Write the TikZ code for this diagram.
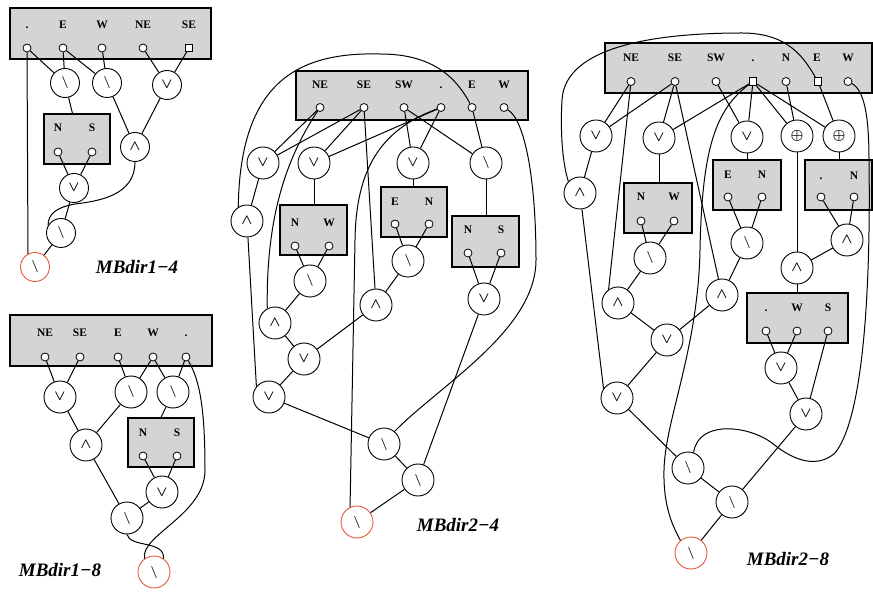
\documentclass[tikz,border=0pt]{standalone}
\usepackage{fontspec}
\setmainfont{Liberation Serif}
\usepackage{xcolor}
\usetikzlibrary{positioning}

\definecolor{boxgray}{RGB}{212,212,212}
\definecolor{rootred}{RGB}{228,90,60}
\newcommand{\orsym}{$\vee$}
\newcommand{\andsym}{$\wedge$}
\newcommand{\difsym}{{\large$\backslash$}}
\newcommand{\xorsym}{$\oplus$}

\begin{document}
\begin{tikzpicture}[x=1pt,y=1pt,
	gate/.style={circle,draw,fill=white,line width=0.9pt,minimum size=32pt,inner sep=0pt,font=\Large\boldmath},
	root/.style={gate,draw=rootred},
	port/.style={circle,draw,fill=white,line width=0.8pt,minimum size=8pt,inner sep=0pt},
	sqport/.style={rectangle,draw,fill=white,line width=0.8pt,minimum size=7.5pt,inner sep=0pt},
	box/.style={draw,fill=boxgray,line width=1.1pt,inner sep=0pt},
	lbl/.style={font=\fontsize{11.5}{13}\selectfont\bfseries,inner sep=0pt,anchor=base},
	mbname/.style={font=\fontsize{19}{22}\selectfont\bfseries\itshape,inner sep=0pt},
	wire/.style={line width=1pt}]
\useasboundingbox (0,0) rectangle (873,-593);

% MBdir1-4
\begin{scope}[gate/.append style={minimum size=29pt}]
\node[box,minimum width=201pt,minimum height=51pt] (aTop) at (110.5,-33.5) {};
\foreach \x/\lab/\n in {27/./dot,63/E/E,102/W/W,143/NE/NE}{
	\node[lbl] (aL\n) at (\x,-29) {\lab};
	\node[port] (aP\n) at (\x,-48) {};
}
\node[lbl] (aLSE) at (189,-29) {SE};
\node[sqport] (aPSE) at (189,-48) {};
\node[box,minimum width=66pt,minimum height=50pt] (aNS) at (77,-139) {};
\foreach \x/\lab in {58/N,92/S}{
	\node[lbl] (aL\lab) at (\x,-132) {\lab};
	\node[port] (aP\lab) at (\x,-152) {};
}
\node[gate] (a1) at (65,-83) {\difsym};
\node[gate] (a2) at (107,-83) {\difsym};
\node[gate] (a3) at (167,-85) {\orsym};
\node[gate] (a4) at (135,-147) {\andsym};
\node[gate] (a5) at (74,-188) {\orsym};
\node[gate] (a6) at (61,-233) {\difsym};
\node[root] (aR) at (35,-267) {\difsym};
\end{scope}
\node[mbname] (aName) at (137,-267) {MBdir1−4};

\draw[wire] (aPdot) -- (a1);
\draw[wire] (aPE) -- (a1);
\draw[wire] (aPE) -- (a2);
\draw[wire] (aPW) -- (a2);
\draw[wire] (aPNE) -- (a3);
\draw[wire] (aPSE) -- (a3);
\draw[wire] (a1) -- (aNS.100);
\draw[wire] (a2) -- (a4);
\draw[wire] (a3) -- (a4);
\draw[wire] (aPN) -- (a5);
\draw[wire] (aPS) -- (a5);
\draw[wire] (a5) -- (a6);
\draw[wire] (a4.south) .. controls (135,-195) and (100,-201) .. (75,-204) .. controls (58,-207) and (48,-213) .. (a6.150);
\draw[wire] (a6) -- (aR);
\draw[wire] (aPdot) -- (aR.118);

% MBdir1-8
\node[box,minimum width=202pt,minimum height=51pt] (bTop) at (111,-340.5) {};
\foreach \x/\lab/\n in {45/NE/NE,80/SE/SE,118/E/E,153/W/W,186/./dot}{
	\node[lbl] (bL\n) at (\x,-337) {\lab};
	\node[port] (bP\n) at (\x,-357) {};
}
\node[box,minimum width=66pt,minimum height=49pt] (bNS) at (161,-442.5) {};
\foreach \x/\lab in {143/N,177/S}{
	\node[lbl] (bL\lab) at (\x,-436) {\lab};
	\node[port] (bP\lab) at (\x,-456) {};
}
\node[gate] (b1) at (60,-397) {\orsym};
\node[gate] (b2) at (131,-392) {\difsym};
\node[gate] (b3) at (173,-392) {\difsym};
\node[gate] (b4) at (86,-445) {\andsym};
\node[gate] (b5) at (162,-492) {\orsym};
\node[gate] (b6) at (127,-518) {\difsym};
\node[root] (bR) at (154,-572) {\difsym};
\node[mbname] (bName) at (60,-570) {MBdir1−8};

\draw[wire] (bPNE) -- (b1);
\draw[wire] (bPSE) -- (b1);
\draw[wire] (bPE) -- (b2);
\draw[wire] (bPW) -- (b2);
\draw[wire] (bPW) -- (b3);
\draw[wire] (bPdot) -- (b3);
\draw[wire] (b1) -- (b4);
\draw[wire] (b2) -- (b4);
\draw[wire] (b3) -- (bNS.north);
\draw[wire] (bPN) -- (b5);
\draw[wire] (bPS) -- (b5);
\draw[wire] (b4) -- (b6);
\draw[wire] (b5) -- (b6);
\draw[wire] (bPdot) .. controls (200,-380) and (205,-410) .. (205,-470) .. controls (205,-515) and (140,-535) .. (bR.125);
\draw[wire] (b6.south) .. controls (130,-548) and (165,-540) .. (bR.55);

% MBdir2-4
\node[box,minimum width=232pt,minimum height=49pt] (cTop) at (412,-95.5) {};
\foreach \x/\lab/\n in {320/NE/NE,364/SE/SE,404/SW/SW,441/./dot,472/E/E,504/W/W}{
	\node[lbl] (cL\n) at (\x,-89) {\lab};
	\node[port] (cP\n) at (\x,-107.5) {};
}
\node[box,minimum width=67pt,minimum height=50pt] (cNW) at (313.5,-230) {};
\foreach \x/\lab in {295/N,329/W}{
	\node[lbl] (cNWL\lab) at (\x,-227) {\lab};
	\node[port] (cNWP\lab) at (\x,-246) {};
}
\node[box,minimum width=66pt,minimum height=50pt] (cEN) at (414,-212) {};
\foreach \x/\lab in {395/E,429/N}{
	\node[lbl] (cENL\lab) at (\x,-206) {\lab};
	\node[port] (cENP\lab) at (\x,-224) {};
}
\node[box,minimum width=67pt,minimum height=51pt] (cNS) at (485.5,-241.5) {};
\foreach \x/\lab in {468/N,501/S}{
	\node[lbl] (cNSL\lab) at (\x,-234) {\lab};
	\node[port] (cNSP\lab) at (\x,-253) {};
}
\node[gate] (c1) at (263,-163) {\orsym};
\node[gate] (c2) at (314,-163) {\orsym};
\node[gate] (c3) at (413,-163) {\orsym};
\node[gate] (c4) at (486,-163) {\difsym};
\node[gate] (c5) at (247,-221) {\andsym};
\node[gate] (c6) at (310,-281) {\difsym};
\node[gate] (c7) at (408,-261) {\difsym};
\node[gate] (c8) at (376,-305) {\andsym};
\node[gate] (c9) at (484,-299) {\orsym};
\node[gate] (c10) at (275,-323) {\andsym};
\node[gate] (c11) at (304,-359) {\orsym};
\node[gate] (c12) at (269,-397) {\orsym};
\node[gate] (c13) at (384,-444) {\difsym};
\node[gate] (c14) at (418,-480) {\difsym};
\node[root] (cR) at (357,-522) {\difsym};
\node[mbname] (cName) at (458,-525) {MBdir2−4};

\draw[wire] (cPNE) -- (c1);
\draw[wire] (cPSE) -- (c1);
\draw[wire] (cPSE) -- (c2);
\draw[wire] (cPdot) -- (c2);
\draw[wire] (cPSW) -- (c3);
\draw[wire] (cPdot) -- (c3);
\draw[wire] (cPSW) -- (c4);
\draw[wire] (cPE) -- (c4);
\draw[wire] (c1) -- (c5);
\draw[wire] (c2) -- (c2 |- cNW.north);
\draw[wire] (c3) -- (c3 |- cEN.north);
\draw[wire] (c4) -- (c4 |- cNS.north);
\draw[wire] (cNWPN) -- (c6);
\draw[wire] (cNWPW) -- (c6);
\draw[wire] (cENPE) -- (c7);
\draw[wire] (cENPN) -- (c7);
\draw[wire] (cNSPN) -- (c9);
\draw[wire] (cNSPS) -- (c9);
\draw[wire] (cPSE) -- (c8);
\draw[wire] (c7) -- (c8);
\draw[wire] (c6) -- (c10);
\draw[wire] (c10) -- (c11);
\draw[wire] (c8) -- (c11);
\draw[wire] (c11) -- (c12);
\draw[wire] (c5) -- (c12.140);
\draw[wire] (c12) -- (c13);
\draw[wire] (c13) -- (c14);
\draw[wire] (c9) -- (c14);
\draw[wire] (c14) -- (cR);
\draw[wire] (cPE) .. controls (455,-75) and (430,-54) .. (380,-54) .. controls (300,-52) and (240,-80) .. (c5.122);
\draw[wire] (cPNE) .. controls (285,-160) and (266,-220) .. (c10.118);
\draw[wire] (cPdot) .. controls (380,-130) and (356,-170) .. (355,-240) -- (cR.115);
\draw[wire] (cPW) .. controls (525,-120) and (536,-180) .. (536,-260) .. controls (536,-330) and (440,-385) .. (c13.50);

% MBdir2-8
\node[box,minimum width=267pt,minimum height=50pt] (dTop) at (738.5,-68) {};
\foreach \x/\lab in {631/NE,675/SE,716/SW,786/N,848/W}{
	\node[lbl] (dL\lab) at (\x,-62) {\lab};
	\node[port] (dP\lab) at (\x,-81.5) {};
}
\node[lbl] (dLdot) at (753,-62) {.};
\node[sqport] (dPdot) at (753,-81.5) {};
\node[lbl] (dLE) at (817,-62) {E};
\node[sqport] (dPE) at (818,-81.5) {};
\node[box,minimum width=68pt,minimum height=50pt] (dNW) at (658,-208) {};
\foreach \x/\lab in {641/N,674/W}{
	\node[lbl] (dNWL\lab) at (\x,-201) {\lab};
	\node[port] (dNWP\lab) at (\x,-221) {};
}
\node[box,minimum width=68pt,minimum height=50pt] (dEN) at (747,-185) {};
\foreach \x/\lab in {728/E,762/N}{
	\node[lbl] (dENL\lab) at (\x,-179) {\lab};
	\node[port] (dENP\lab) at (\x,-197) {};
}
\node[box,minimum width=67pt,minimum height=50pt] (dDN) at (838.5,-185) {};
\foreach \x/\lab/\n in {821/./dot,854/N/N}{
	\node[lbl] (dDNL\n) at (\x,-180) {\lab};
	\node[port] (dDNP\n) at (\x,-197) {};
}
\node[box,minimum width=101pt,minimum height=50pt] (dWS) at (797.5,-318) {};
\foreach \x/\lab/\n in {766/./dot,797/W/W,828/S/S}{
	\node[lbl] (dWSL\n) at (\x,-312) {\lab};
	\node[port] (dWSP\n) at (\x,-331) {};
}
\node[gate] (d1) at (596,-136) {\orsym};
\node[gate] (d2) at (659,-138) {\orsym};
\node[gate] (d3) at (747,-137) {\orsym};
\node[gate] (d4) at (797,-136) {\xorsym};
\node[gate] (d5) at (839,-136) {\xorsym};
\node[gate] (d6) at (580,-193) {\andsym};
\node[gate] (d7) at (650,-258) {\difsym};
\node[gate] (d8) at (747,-243) {\difsym};
\node[gate] (d9) at (847,-240) {\andsym};
\node[gate] (d10) at (797,-268) {\andsym};
\node[gate] (d11) at (722,-295) {\andsym};
\node[gate] (d12) at (618,-303) {\andsym};
\node[gate] (d13) at (667,-340) {\orsym};
\node[gate] (d14) at (617,-398) {\orsym};
\node[gate] (d15) at (781,-368) {\orsym};
\node[gate] (d16) at (806,-414) {\orsym};
\node[gate] (d17) at (688,-468) {\difsym};
\node[gate] (d18) at (732,-502) {\difsym};
\node[root] (dR) at (691,-553) {\difsym};
\node[mbname] (dName) at (788,-559) {MBdir2−8};

\draw[wire] (dPNE) -- (d1);
\draw[wire] (dPSE) -- (d1);
\draw[wire] (dPSE) -- (d2);
\draw[wire] (dPdot) -- (d2);
\draw[wire] (dPSW) -- (d3);
\draw[wire] (dPdot) -- (d3);
\draw[wire] (dPdot) -- (d4);
\draw[wire] (dPN) -- (d4);
\draw[wire] (dPdot) -- (d5);
\draw[wire] (dPE) -- (d5);
\draw[wire] (d1) -- (d6);
\draw[wire] (d2) -- (d2 |- dNW.north);
\draw[wire] (d3) -- (d3 |- dEN.north);
\draw[wire] (d5) -- (d5 |- dDN.north);
\draw[wire] (d4) -- (d10);
\draw[wire] (dNWPN) -- (d7);
\draw[wire] (dNWPW) -- (d7);
\draw[wire] (dENPE) -- (d8);
\draw[wire] (dENPN) -- (d8);
\draw[wire] (dDNPdot) -- (d9);
\draw[wire] (dDNPN) -- (d9);
\draw[wire] (d9) -- (d10);
\draw[wire] (d10) -- (d10 |- dWS.north);
\draw[wire] (dPNE) -- (d12.125);
\draw[wire] (dPSE) -- (d11);
\draw[wire] (d7) -- (d12);
\draw[wire] (d8) -- (d11);
\draw[wire] (d12) -- (d13);
\draw[wire] (d11) -- (d13);
\draw[wire] (d13) -- (d14);
\draw[wire] (d6) -- (d14.145);
\draw[wire] (dWSPdot) -- (d15);
\draw[wire] (dWSPW) -- (d15);
\draw[wire] (dWSPS) -- (d16);
\draw[wire] (d15) -- (d16);
\draw[wire] (d14) -- (d17);
\draw[wire] (d17) -- (d18);
\draw[wire] (d16) -- (d18);
\draw[wire] (d18) -- (dR);
\draw[wire] (dPE) .. controls (805,-60) and (790,-33) .. (742,-33) .. controls (660,-33) and (565,-45) .. (562,-100) .. controls (560,-135) and (563,-165) .. (d6.135);
\draw[wire] (dPdot) .. controls (715,-110) and (702,-150) .. (700,-250) .. controls (698,-350) and (665,-420) .. (664,-470) .. controls (663,-510) and (675,-530) .. (dR.130);
\draw[wire] (dPW) .. controls (864,-90) and (869,-115) .. (869,-160) .. controls (871,-300) and (862,-420) .. (835,-453) .. controls (818,-468) and (795,-462) .. (772,-443) .. controls (748,-425) and (698,-420) .. (d17.70);
\end{tikzpicture}
\end{document}
